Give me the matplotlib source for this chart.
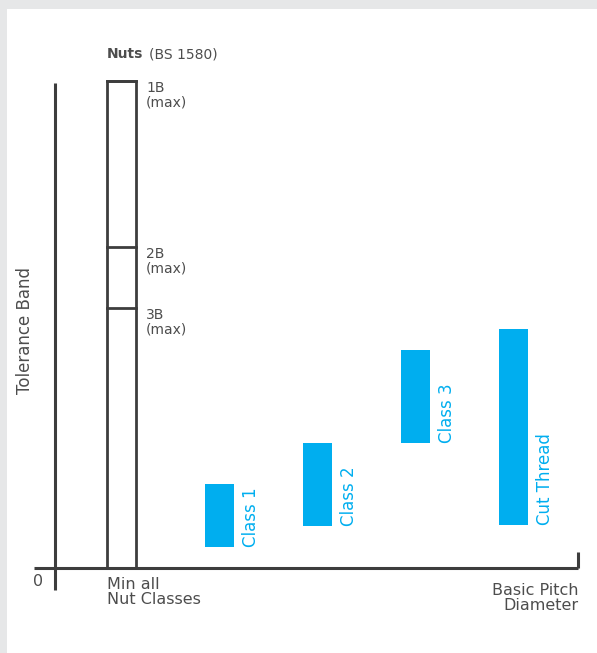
import matplotlib
matplotlib.use("Agg")
import matplotlib.pyplot as plt
from matplotlib.patches import Rectangle

# data: tolerance band limits (arbitrary units from the picture)
nut_grades = ["1B", "2B", "3B"]
nut_max = [48.7, 32.1, 26.0]
classes = ["Class 1", "Class 2", "Class 3", "Cut Thread"]
class_pos = [2, 3, 4, 5]
class_low = [2.1, 4.2, 12.5, 4.3]
class_high = [8.4, 12.5, 21.8, 23.9]
nut_pos = 1

blauw = "#00aeef"
siva = "#3d3d3d"
tekst = "#4d4d4d"
plt.rcParams["font.family"] = ["DejaVu Sans"]

fig = plt.figure(figsize=(5.97, 6.53), dpi=100, facecolor="#e6e7e8")
# white panel
fig.patches.append(Rectangle((7 / 597, 0), 1, 1 - 9 / 653, transform=fig.transFigure,
                             facecolor="white", edgecolor="none", zorder=-5))
ax = fig.add_axes([0, 0, 1, 1])
ax.set_axis_off()
# pixel scale: 98 px per category, 10 px per unit
ax.set_xlim(1 - 121.5 / 98, 1 + 475.5 / 98)
ax.set_ylim(-8.5, 56.8)

sirina = 0.3
os_x = 1 - 66.5 / 98

# axes lines
ax.plot([os_x, os_x], [-2.2, 48.5], color=siva, lw=2.2, solid_capstyle="butt")
ax.plot([os_x - 0.21, 5.66], [0, 0], color=siva, lw=2.2, solid_capstyle="butt")
ax.plot([5.66, 5.66], [0, 1.6], color=siva, lw=2.2, solid_capstyle="butt")

# nut bar
ax.add_patch(Rectangle((nut_pos - sirina / 2, 0), sirina, nut_max[0], facecolor="none",
                       edgecolor=siva, lw=2))
for g, v in zip(nut_grades, nut_max):
    ax.plot([nut_pos - sirina / 2, nut_pos + sirina / 2], [v, v], color=siva, lw=2)
    ax.text(nut_pos + sirina / 2 + 0.1, v, g + "\n(max)", ha="left", va="top",
            fontsize=10, color=tekst, linespacing=1.05)

# class bars
ax.bar(class_pos, [h - l for h, l in zip(class_high, class_low)], bottom=class_low,
       width=sirina, color=blauw)
for x, l, name in zip(class_pos, class_low, classes):
    ax.text(x + sirina / 2 + 0.17, l, name, rotation=90, ha="center", va="bottom",
            fontsize=12, color=blauw)

ax.text(nut_pos - sirina / 2, 51.0, "Nuts", fontweight="bold", fontsize=10,
        color=tekst, ha="left", va="baseline")
ax.text(nut_pos - sirina / 2 + 0.43, 51.0, "(BS 1580)", fontsize=10,
        color=tekst, ha="left", va="baseline")

ax.text(os_x - 0.306, 23.8, "Tolerance Band", rotation=90, ha="center", va="center",
        fontsize=12, color=tekst)
ax.text(os_x - 0.17, -1.4, "0", ha="center", va="center", fontsize=11.5, color=tekst)
ax.text(nut_pos - sirina / 2, -0.9, "Min all\nNut Classes", ha="left", va="top",
        fontsize=11.5, color=tekst, linespacing=1.0)
ax.text(5.66, -1.5, "Basic Pitch\nDiameter", ha="right", va="top",
        fontsize=11.5, color=tekst, linespacing=1.0)

fig.savefig("out.png", dpi=100, facecolor=fig.get_facecolor())
